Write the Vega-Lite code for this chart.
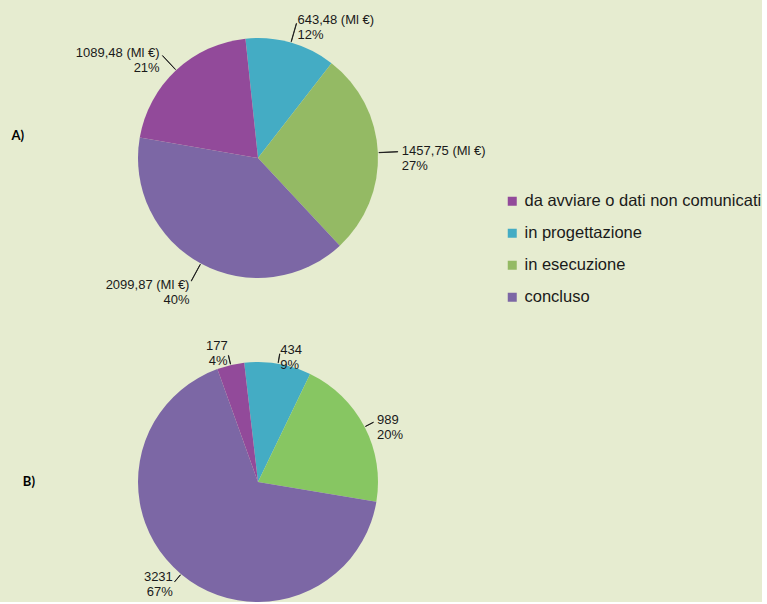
{
  "$schema": "https://vega.github.io/schema/vega-lite/v6.json",
  "background": "#E6ECD0",
  "padding": 0,
  "spacing": 46,
  "bounds": "flush",
  "config": {"view": {"stroke": null}, "font": "Liberation Sans"},
  "datasets": {
    "A": [
      {"categoria": "in progettazione", "valore": 643.48, "perc": 12, "ord": 1},
      {"categoria": "in esecuzione", "valore": 1457.75, "perc": 27, "ord": 2},
      {"categoria": "concluso", "valore": 2099.87, "perc": 40, "ord": 3},
      {"categoria": "da avviare o dati non comunicati", "valore": 1089.48, "perc": 21, "ord": 4}
    ],
    "B": [
      {"categoria": "in progettazione", "valore": 434, "perc": 9, "ord": 1},
      {"categoria": "in esecuzione", "valore": 989, "perc": 20, "ord": 2},
      {"categoria": "concluso", "valore": 3231, "perc": 67, "ord": 3},
      {"categoria": "da avviare o dati non comunicati", "valore": 177, "perc": 4, "ord": 4}
    ]
  },
  "resolve": {"scale": {"color": "independent"}},
  "vconcat": [
    {
      "width": 516,
      "height": 316,
      "data": {"name": "A"},
      "title": {"text": "A)", "orient": "left", "angle": 0, "anchor": "middle", "offset": -24, "dy": -22, "fontSize": 13, "font": "Lato", "fontWeight": "bold", "color": "#000000", "align": "left", "baseline": "middle"},
      "transform": [
        {"window": [{"op": "sum", "field": "valore", "as": "cum"}], "sort": [{"field": "ord"}], "frame": [null, 0]},
        {"joinaggregate": [{"op": "sum", "field": "valore", "as": "tot"}]},
        {"calculate": "-0.1047 + 2*PI*datum.cum/datum.tot", "as": "t1"},
        {"calculate": "-0.1047 + 2*PI*(datum.cum - datum.valore)/datum.tot", "as": "t0"},
        {"calculate": "(datum.t0 + datum.t1)/2", "as": "tm"},
        {"calculate": "datum.tm + 0.002", "as": "tm2"},
        {"calculate": "datum.tm < PI ? 'R' : 'L'", "as": "lato"},
        {"calculate": "replace(format(datum.valore, '.2f'), '.', ',') + ' (Ml €)\\n' + datum.perc + '%'", "as": "etichetta"}
      ],
      "layer": [
        {
          "mark": {"type": "arc", "radius": 120},
          "encoding": {
            "theta": {"field": "t0", "type": "quantitative", "scale": null, "stack": null},
            "theta2": {"field": "t1"},
            "color": {
              "field": "categoria", "type": "nominal",
              "scale": {"domain": ["da avviare o dati non comunicati", "in progettazione", "in esecuzione", "concluso"], "range": ["#924A9A", "#44ACC4", "#94BA64", "#7C67A5"]},
              "legend": {"orient": "none", "legendX": 504, "legendY": 193, "title": null, "symbolType": "square", "symbolSize": 81, "symbolStrokeWidth": 0, "labelFontSize": 16.5, "labelLimit": 400, "rowPadding": 15, "labelOffset": 4, "padding": 0, "labelColor": "#1a1a1a", "labelFont": "Liberation Sans"}
            }
          }
        },
        {
          "mark": {"type": "arc", "radius": 140, "radius2": 121, "filled": false, "stroke": "#1a1a1a", "strokeWidth": 0.9},
          "encoding": {
            "theta": {"field": "tm", "type": "quantitative", "scale": null, "stack": null},
            "theta2": {"field": "tm2"}
          }
        },
        {
          "transform": [{"filter": "datum.lato == 'R'"}],
          "mark": {"type": "text", "radius": 144, "align": "left", "baseline": "middle", "fontSize": 13, "lineHeight": 15, "lineBreak": "\n", "color": "#1a1a1a"},
          "encoding": {
            "theta": {"field": "tm", "type": "quantitative", "scale": null, "stack": null},
            "text": {"field": "etichetta"}
          }
        },
        {
          "transform": [{"filter": "datum.lato == 'L'"}],
          "mark": {"type": "text", "radius": 144, "align": "right", "baseline": "middle", "fontSize": 13, "lineHeight": 15, "lineBreak": "\n", "color": "#1a1a1a"},
          "encoding": {
            "theta": {"field": "tm", "type": "quantitative", "scale": null, "stack": null},
            "text": {"field": "etichetta"}
          }
        }
      ]
    },
    {
      "width": 516,
      "height": 240,
      "data": {"name": "B"},
      "title": {"text": "B)", "orient": "left", "angle": 0, "anchor": "middle", "offset": -35, "fontSize": 13, "font": "Lato", "fontWeight": "bold", "color": "#000000", "align": "left", "baseline": "middle"},
      "transform": [
        {"window": [{"op": "sum", "field": "valore", "as": "cum"}], "sort": [{"field": "ord"}], "frame": [null, 0]},
        {"joinaggregate": [{"op": "sum", "field": "valore", "as": "tot"}]},
        {"calculate": "-0.1152 + 2*PI*datum.cum/datum.tot", "as": "t1"},
        {"calculate": "-0.1152 + 2*PI*(datum.cum - datum.valore)/datum.tot", "as": "t0"},
        {"calculate": "(datum.t0 + datum.t1)/2", "as": "tm"},
        {"calculate": "datum.tm + 0.002", "as": "tm2"},
        {"calculate": "datum.tm < PI ? 'R' : 'L'", "as": "lato"},
        {"calculate": "datum.valore + '\\n' + datum.perc + '%'", "as": "etichetta"}
      ],
      "layer": [
        {
          "mark": {"type": "arc", "radius": 120},
          "encoding": {
            "theta": {"field": "t0", "type": "quantitative", "scale": null, "stack": null},
            "theta2": {"field": "t1"},
            "color": {
              "field": "categoria", "type": "nominal",
              "scale": {"domain": ["da avviare o dati non comunicati", "in progettazione", "in esecuzione", "concluso"], "range": ["#924A9A", "#44ACC4", "#87C662", "#7C67A5"]},
              "legend": null
            }
          }
        },
        {
          "mark": {"type": "arc", "radius": 130, "radius2": 121, "filled": false, "stroke": "#1a1a1a", "strokeWidth": 0.9},
          "encoding": {
            "theta": {"field": "tm", "type": "quantitative", "scale": null, "stack": null},
            "theta2": {"field": "tm2"}
          }
        },
        {
          "transform": [{"filter": "datum.lato == 'R'"}],
          "mark": {"type": "text", "radius": 134, "align": "left", "baseline": "middle", "fontSize": 13, "lineHeight": 15, "lineBreak": "\n", "color": "#1a1a1a"},
          "encoding": {
            "theta": {"field": "tm", "type": "quantitative", "scale": null, "stack": null},
            "text": {"field": "etichetta"}
          }
        },
        {
          "transform": [{"filter": "datum.lato == 'L'"}],
          "mark": {"type": "text", "radius": 133, "dy": -7, "align": "right", "baseline": "middle", "fontSize": 13, "lineHeight": 15, "lineBreak": "\n", "color": "#1a1a1a"},
          "encoding": {
            "theta": {"field": "tm", "type": "quantitative", "scale": null, "stack": null},
            "text": {"field": "etichetta"}
          }
        }
      ]
    }
  ]
}
